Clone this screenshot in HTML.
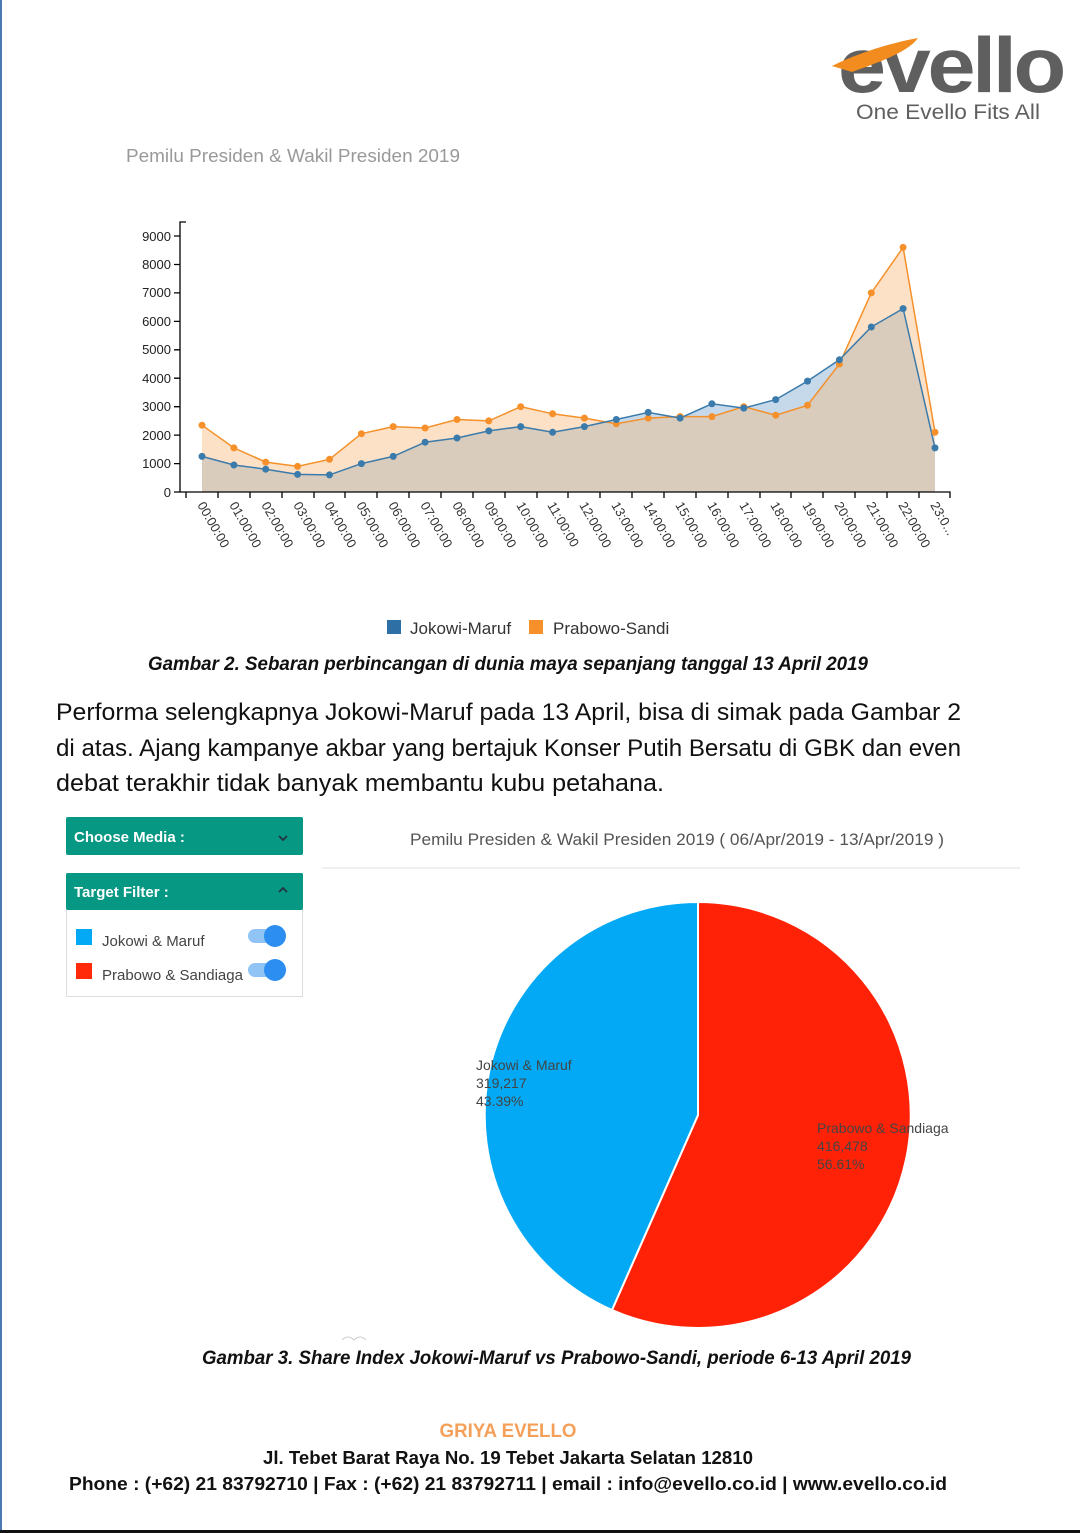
<!DOCTYPE html>
<html><head><meta charset="utf-8"><style>
html,body{margin:0;padding:0;background:#fff}
svg{display:block}
</style></head><body>
<svg width="1080" height="1533" viewBox="0 0 1080 1533" xmlns="http://www.w3.org/2000/svg" font-family="Liberation Sans, sans-serif">
<defs>
<clipPath id="oc"><polygon points="202,425.2 233.9,447.9 265.7,462.1 297.6,466.4 329.5,459.3 361.4,433.7 393.2,426.6 425.1,428 457,419.5 488.8,420.9 520.7,406.7 552.6,413.8 584.4,418.1 616.3,423.7 648.2,418.1 680.1,416.6 711.9,416.6 743.8,406.7 775.7,415.2 807.5,405.3 839.4,364 871.3,292.9 903.1,247.4 935,432.3 935,492 202,492"/></clipPath>
</defs>
<rect width="1080" height="1533" fill="#fff"/>
<rect x="0" y="0" width="2" height="1533" fill="#4a78b0"/>
<rect x="0" y="1530" width="1080" height="3" fill="#111"/>

<!-- logo -->
<text x="838" y="92" font-size="78" font-weight="bold" fill="#5f5f5f" textLength="225" lengthAdjust="spacingAndGlyphs" letter-spacing="-3">evello</text>
<path d="M832,66 C860,52 895,42 918,38 C908,52 880,62 852,72 Z" fill="#f28c1e"/>
<text x="856" y="119" font-size="21" fill="#5f5f5f" textLength="184" lengthAdjust="spacingAndGlyphs">One Evello Fits All</text>

<text x="126" y="162" font-size="18" fill="#999" textLength="334" lengthAdjust="spacingAndGlyphs">Pemilu Presiden &amp; Wakil Presiden 2019</text>

<!-- chart -->
<polygon points="202,425.2 233.9,447.9 265.7,462.1 297.6,466.4 329.5,459.3 361.4,433.7 393.2,426.6 425.1,428 457,419.5 488.8,420.9 520.7,406.7 552.6,413.8 584.4,418.1 616.3,423.7 648.2,418.1 680.1,416.6 711.9,416.6 743.8,406.7 775.7,415.2 807.5,405.3 839.4,364 871.3,292.9 903.1,247.4 935,432.3 935,492 202,492" fill="#fde1c7"/>
<polygon points="202,456.4 233.9,465 265.7,469.2 297.6,474.4 329.5,474.9 361.4,463.6 393.2,456.4 425.1,442.2 457,438 488.8,430.9 520.7,426.6 552.6,432.3 584.4,426.6 616.3,419.5 648.2,412.4 680.1,418.1 711.9,403.8 743.8,408.1 775.7,399.6 807.5,381.1 839.4,359.8 871.3,327 903.1,308.6 935,447.9 935,492 202,492" fill="#c6d9ea"/>
<polygon clip-path="url(#oc)" points="202,456.4 233.9,465 265.7,469.2 297.6,474.4 329.5,474.9 361.4,463.6 393.2,456.4 425.1,442.2 457,438 488.8,430.9 520.7,426.6 552.6,432.3 584.4,426.6 616.3,419.5 648.2,412.4 680.1,418.1 711.9,403.8 743.8,408.1 775.7,399.6 807.5,381.1 839.4,359.8 871.3,327 903.1,308.6 935,447.9 935,492 202,492" fill="#d9ccbc"/>
<polyline points="202,425.2 233.9,447.9 265.7,462.1 297.6,466.4 329.5,459.3 361.4,433.7 393.2,426.6 425.1,428 457,419.5 488.8,420.9 520.7,406.7 552.6,413.8 584.4,418.1 616.3,423.7 648.2,418.1 680.1,416.6 711.9,416.6 743.8,406.7 775.7,415.2 807.5,405.3 839.4,364 871.3,292.9 903.1,247.4 935,432.3" fill="none" stroke="#f5902a" stroke-width="1.5"/>
<polyline points="202,456.4 233.9,465 265.7,469.2 297.6,474.4 329.5,474.9 361.4,463.6 393.2,456.4 425.1,442.2 457,438 488.8,430.9 520.7,426.6 552.6,432.3 584.4,426.6 616.3,419.5 648.2,412.4 680.1,418.1 711.9,403.8 743.8,408.1 775.7,399.6 807.5,381.1 839.4,359.8 871.3,327 903.1,308.6 935,447.9" fill="none" stroke="#3b7bab" stroke-width="1.5"/>
<g fill="#f5902a">
<circle cx="202" cy="425.2" r="3.5"/><circle cx="233.9" cy="447.9" r="3.5"/><circle cx="265.7" cy="462.1" r="3.5"/><circle cx="297.6" cy="466.4" r="3.5"/><circle cx="329.5" cy="459.3" r="3.5"/><circle cx="361.4" cy="433.7" r="3.5"/><circle cx="393.2" cy="426.6" r="3.5"/><circle cx="425.1" cy="428" r="3.5"/><circle cx="457" cy="419.5" r="3.5"/><circle cx="488.8" cy="420.9" r="3.5"/><circle cx="520.7" cy="406.7" r="3.5"/><circle cx="552.6" cy="413.8" r="3.5"/><circle cx="584.4" cy="418.1" r="3.5"/><circle cx="616.3" cy="423.7" r="3.5"/><circle cx="648.2" cy="418.1" r="3.5"/><circle cx="680.1" cy="416.6" r="3.5"/><circle cx="711.9" cy="416.6" r="3.5"/><circle cx="743.8" cy="406.7" r="3.5"/><circle cx="775.7" cy="415.2" r="3.5"/><circle cx="807.5" cy="405.3" r="3.5"/><circle cx="839.4" cy="364" r="3.5"/><circle cx="871.3" cy="292.9" r="3.5"/><circle cx="903.1" cy="247.4" r="3.5"/><circle cx="935" cy="432.3" r="3.5"/>
</g>
<g fill="#3b7bab">
<circle cx="202" cy="456.4" r="3.5"/><circle cx="233.9" cy="465" r="3.5"/><circle cx="265.7" cy="469.2" r="3.5"/><circle cx="297.6" cy="474.4" r="3.5"/><circle cx="329.5" cy="474.9" r="3.5"/><circle cx="361.4" cy="463.6" r="3.5"/><circle cx="393.2" cy="456.4" r="3.5"/><circle cx="425.1" cy="442.2" r="3.5"/><circle cx="457" cy="438" r="3.5"/><circle cx="488.8" cy="430.9" r="3.5"/><circle cx="520.7" cy="426.6" r="3.5"/><circle cx="552.6" cy="432.3" r="3.5"/><circle cx="584.4" cy="426.6" r="3.5"/><circle cx="616.3" cy="419.5" r="3.5"/><circle cx="648.2" cy="412.4" r="3.5"/><circle cx="680.1" cy="418.1" r="3.5"/><circle cx="711.9" cy="403.8" r="3.5"/><circle cx="743.8" cy="408.1" r="3.5"/><circle cx="775.7" cy="399.6" r="3.5"/><circle cx="807.5" cy="381.1" r="3.5"/><circle cx="839.4" cy="359.8" r="3.5"/><circle cx="871.3" cy="327" r="3.5"/><circle cx="903.1" cy="308.6" r="3.5"/><circle cx="935" cy="447.9" r="3.5"/>
</g>
<!-- axes -->
<g stroke="#000" stroke-width="1.3" fill="none">
<path d="M186,222 H180 V492 H950 V498"/>
<path d="M174,492H180M174,463.6H180M174,435.1H180M174,406.7H180M174,378.2H180M174,349.8H180M174,321.4H180M174,292.9H180M174,264.5H180M174,236H180"/>
<path d="M186,492v6M218,492v6M250,492v6M282,492v6M314,492v6M345,492v6M377,492v6M409,492v6M441,492v6M473,492v6M505,492v6M537,492v6M568,492v6M600,492v6M632,492v6M664,492v6M696,492v6M728,492v6M760,492v6M791,492v6M823,492v6M855,492v6M887,492v6M919,492v6"/>
</g>
<g font-size="13" fill="#222" text-anchor="end">
<text x="171" y="497">0</text><text x="171" y="468">1000</text><text x="171" y="440">2000</text><text x="171" y="411">3000</text><text x="171" y="383">4000</text><text x="171" y="354">5000</text><text x="171" y="326">6000</text><text x="171" y="297">7000</text><text x="171" y="269">8000</text><text x="171" y="241">9000</text>
</g>
<g font-size="13" fill="#333">
<text transform="translate(197,505) rotate(60)">00:00:00</text>
<text transform="translate(229,505) rotate(60)">01:00:00</text>
<text transform="translate(261,505) rotate(60)">02:00:00</text>
<text transform="translate(293,505) rotate(60)">03:00:00</text>
<text transform="translate(324,505) rotate(60)">04:00:00</text>
<text transform="translate(356,505) rotate(60)">05:00:00</text>
<text transform="translate(388,505) rotate(60)">06:00:00</text>
<text transform="translate(420,505) rotate(60)">07:00:00</text>
<text transform="translate(452,505) rotate(60)">08:00:00</text>
<text transform="translate(484,505) rotate(60)">09:00:00</text>
<text transform="translate(516,505) rotate(60)">10:00:00</text>
<text transform="translate(547,505) rotate(60)">11:00:00</text>
<text transform="translate(579,505) rotate(60)">12:00:00</text>
<text transform="translate(611,505) rotate(60)">13:00:00</text>
<text transform="translate(643,505) rotate(60)">14:00:00</text>
<text transform="translate(675,505) rotate(60)">15:00:00</text>
<text transform="translate(707,505) rotate(60)">16:00:00</text>
<text transform="translate(739,505) rotate(60)">17:00:00</text>
<text transform="translate(770,505) rotate(60)">18:00:00</text>
<text transform="translate(802,505) rotate(60)">19:00:00</text>
<text transform="translate(834,505) rotate(60)">20:00:00</text>
<text transform="translate(866,505) rotate(60)">21:00:00</text>
<text transform="translate(898,505) rotate(60)">22:00:00</text>
<text transform="translate(930,505) rotate(60)">23:0...</text>
</g>
<!-- legend -->
<rect x="387" y="620" width="14" height="14" fill="#2e6fa5"/>
<text x="410" y="634" font-size="17" fill="#333">Jokowi-Maruf</text>
<rect x="529" y="620" width="14" height="14" fill="#f5902a"/>
<text x="553" y="634" font-size="17" fill="#333">Prabowo-Sandi</text>

<text x="148" y="670" font-size="19" font-weight="bold" font-style="italic" fill="#111" textLength="720" lengthAdjust="spacingAndGlyphs">Gambar 2. Sebaran perbincangan di dunia maya sepanjang tanggal 13 April 2019</text>

<g font-size="24" fill="#111">
<text x="56" y="720" textLength="905" lengthAdjust="spacingAndGlyphs">Performa selengkapnya Jokowi-Maruf pada 13 April, bisa di simak pada Gambar 2</text>
<text x="56" y="756" textLength="905" lengthAdjust="spacingAndGlyphs">di atas. Ajang kampanye akbar yang bertajuk  Konser Putih Bersatu di GBK dan even</text>
<text x="56" y="791" textLength="608" lengthAdjust="spacingAndGlyphs">debat terakhir tidak banyak membantu kubu petahana.</text>
</g>

<!-- left panels -->
<rect x="66" y="817" width="237" height="38" rx="2" fill="#079883"/>
<text x="74" y="842" font-size="15" font-weight="bold" fill="#fff">Choose Media :</text>
<path d="M279,836 l4,4 l4,-4" stroke="#234" stroke-width="1.8" fill="none"/>
<rect x="66.5" y="873.5" width="236" height="123" fill="#fff" stroke="#ddd"/>
<rect x="66" y="873" width="237" height="37" rx="2" fill="#079883"/>
<text x="74" y="897" font-size="15" font-weight="bold" fill="#fff">Target Filter :</text>
<path d="M279,892 l4,-4 l4,4" stroke="#234" stroke-width="1.8" fill="none"/>
<rect x="76" y="929" width="16" height="16" fill="#03a9f4"/>
<text x="102" y="946" font-size="15" fill="#444">Jokowi &amp; Maruf</text>
<rect x="76" y="963" width="16" height="16" fill="#ff2a0a"/>
<text x="102" y="980" font-size="15" fill="#444">Prabowo &amp; Sandiaga</text>
<rect x="248" y="929" width="34" height="14" rx="7" fill="#90c4f5"/>
<circle cx="275" cy="936" r="11" fill="#2b8ef0"/>
<rect x="248" y="963" width="34" height="14" rx="7" fill="#90c4f5"/>
<circle cx="275" cy="970" r="11" fill="#2b8ef0"/>

<!-- pie header -->
<line x1="322" y1="868" x2="1020" y2="868" stroke="#e2e2e2"/>
<text x="410" y="845" font-size="17" fill="#555" textLength="534" lengthAdjust="spacingAndGlyphs">Pemilu Presiden &amp; Wakil Presiden 2019  ( 06/Apr/2019 - 13/Apr/2019 )</text>

<path d="M698,1115 L698,902 A213,213 0 1 1 612,1310 Z" fill="#ff2206" stroke="#fff" stroke-width="2"/>
<path d="M698,1115 L612,1310 A213,213 0 0 1 698,902 Z" fill="#03a9f4" stroke="#fff" stroke-width="2"/>
<g font-size="14" fill="#444">
<text x="476" y="1070">Jokowi &amp; Maruf</text>
<text x="476" y="1088">319,217</text>
<text x="476" y="1106">43.39%</text>
<text x="817" y="1133">Prabowo &amp; Sandiaga</text>
<text x="817" y="1151">416,478</text>
<text x="817" y="1169">56.61%</text>
</g>
<path d="M342,1340 q6,-6 12,0 q6,-6 12,0" stroke="#ccc" fill="none"/>

<text x="202" y="1364" font-size="19" font-weight="bold" font-style="italic" fill="#111" textLength="709" lengthAdjust="spacingAndGlyphs">Gambar 3. Share Index Jokowi-Maruf vs Prabowo-Sandi, periode 6-13 April 2019</text>

<text x="508" y="1437" font-size="19" font-weight="bold" fill="#f4a05a" text-anchor="middle" textLength="137" lengthAdjust="spacingAndGlyphs">GRIYA EVELLO</text>
<text x="508" y="1464" font-size="18" font-weight="bold" fill="#111" text-anchor="middle" textLength="490" lengthAdjust="spacingAndGlyphs">Jl. Tebet Barat Raya No. 19 Tebet Jakarta Selatan 12810</text>
<text x="508" y="1490" font-size="18" font-weight="bold" fill="#111" text-anchor="middle" textLength="878" lengthAdjust="spacingAndGlyphs">Phone : (+62) 21 83792710 | Fax : (+62) 21 83792711 | email : info@evello.co.id | www.evello.co.id</text>
</svg>
</body></html>
